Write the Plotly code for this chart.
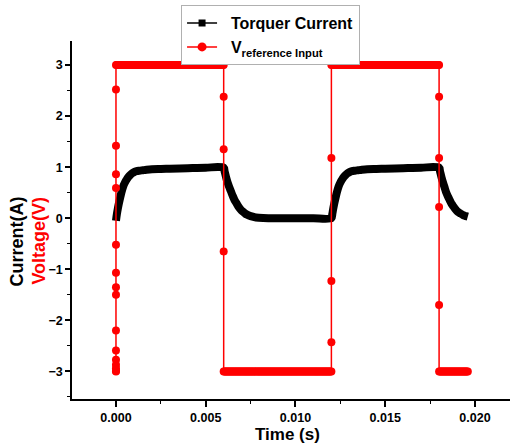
import numpy as np
import plotly.graph_objects as go

# ---- torquer current (A) ----
cur_t = [0.0, 0.00005, 0.0001, 0.00015, 0.0002, 0.0003, 0.0004, 0.0005, 0.0006, 0.0007,
         0.0008, 0.0009, 0.0010, 0.00115, 0.0013, 0.0015, 0.0017, 0.0020, 0.0025, 0.0030,
         0.0040, 0.0050, 0.0060,
         0.00605, 0.0061, 0.00615, 0.0062, 0.0063, 0.0064, 0.0065, 0.0066, 0.0067, 0.0068,
         0.0069, 0.0070, 0.0071, 0.0072, 0.0073, 0.0075, 0.0078, 0.0082, 0.0090, 0.0100,
         0.0110, 0.0120,
         0.01205, 0.0121, 0.01215, 0.0122, 0.0123, 0.0124, 0.0125, 0.0126, 0.0127,
         0.0128, 0.0129, 0.0130, 0.01315, 0.0133, 0.0135, 0.0137, 0.0140, 0.0145, 0.0150,
         0.0160, 0.0170, 0.0180,
         0.01805, 0.0181, 0.01815, 0.0182, 0.0183, 0.0184, 0.0185, 0.0186, 0.0187, 0.0188,
         0.0189, 0.0190, 0.0191, 0.0192, 0.0193, 0.0194, 0.0195, 0.0196]
cur_i = [-0.05, 0.08, 0.18, 0.27, 0.35, 0.50, 0.62, 0.70, 0.76, 0.81,
         0.85, 0.88, 0.90, 0.92, 0.93, 0.94, 0.95, 0.96, 0.965, 0.97,
         0.98, 0.99, 0.99,
         0.92, 0.85, 0.78, 0.72, 0.62, 0.53, 0.44, 0.36, 0.30, 0.24,
         0.19, 0.15, 0.12, 0.09, 0.07, 0.04, 0.015, 0.005, 0.0, 0.0,
         0.0, 0.0,
         0.08, 0.18, 0.27, 0.35, 0.50, 0.62, 0.70, 0.76, 0.81,
         0.85, 0.88, 0.90, 0.92, 0.93, 0.94, 0.95, 0.96, 0.965, 0.97,
         0.98, 0.99, 0.99,
         0.92, 0.85, 0.78, 0.72, 0.61, 0.50, 0.42, 0.35, 0.28, 0.23,
         0.18, 0.14, 0.11, 0.09, 0.07, 0.05, 0.04, 0.03]

# ---- reference input voltage (V) ----
switch_t = [0.0, 0.006, 0.012, 0.018]          # switching instants
level_v = [3.0, -3.0, 3.0, -3.0]               # level held after each switch
end_t = 0.0196                                 # last simulated instant
sample_dt = 0.00005                            # solver output step
# intermediate samples captured during each switching edge
edge_v = [
    [-3.0, -2.99, -2.94, -2.87, -2.77, -2.59, -2.2, -1.5, -1.35, -1.07, -0.52, 0.59, 0.86, 1.42, 2.52],
    [2.38, 1.35, -0.65],
    [-2.43, -1.23, 1.18],
    [2.38, 1.18, 0.22, -1.7],
]

# assemble the sampled voltage series from edges + held levels
v_t, v_v = [], []
stops = switch_t[1:] + [end_t]
for t0, t1, lv, edge in zip(switch_t, stops, level_v, edge_v):
    v_t += [t0] * len(edge)
    v_v += edge
    hold = np.arange(t0, t1 + sample_dt / 2, sample_dt)
    v_t += list(hold)
    v_v += [lv] * len(hold)

FONT = "Liberation Sans, Arial, sans-serif"
RED = "#ff0000"
PAD = "\u00a0\u00a0"

fig = go.Figure()

fig.add_trace(go.Scatter(
    x=cur_t, y=cur_i, mode="lines",
    line=dict(color="black", width=8, shape="spline", smoothing=0.8),
    showlegend=False, hoverinfo="skip"))

fig.add_trace(go.Scatter(
    x=v_t, y=v_v, mode="lines+markers",
    line=dict(color=RED, width=1.5),
    marker=dict(symbol="circle", size=8, color=RED),
    showlegend=False, hoverinfo="skip"))

# legend entries
fig.add_trace(go.Scatter(
    x=[None], y=[None], mode="lines+markers", name=PAD + "Torquer Current",
    line=dict(color="black", width=1.5),
    marker=dict(symbol="square", size=7, color="black")))
fig.add_trace(go.Scatter(
    x=[None], y=[None], mode="lines+markers",
    name=PAD + "V<sub>reference Input</sub>",
    line=dict(color=RED, width=1.5),
    marker=dict(symbol="circle", size=9, color=RED)))

tickfont = dict(family=FONT, size=12.5, color="black", weight="bold")

fig.update_xaxes(
    range=[-0.00245, 0.02195],
    tickvals=[0.0, 0.005, 0.010, 0.015, 0.020],
    ticktext=["0.000", "0.005", "0.010", "0.015", "0.020"],
    ticks="outside", ticklen=6, tickwidth=1.5, tickcolor="black",
    minor=dict(dtick=0.0025, tick0=0, ticks="outside", ticklen=3, tickwidth=1.2, tickcolor="black"),
    showline=True, linecolor="black", linewidth=1.5,
    showgrid=False, zeroline=False, tickfont=tickfont)

fig.update_yaxes(
    range=[-3.54, 3.47],
    tickvals=[-3, -2, -1, 0, 1, 2, 3],
    ticks="outside", ticklen=5, tickwidth=1.5, tickcolor="black",
    minor=dict(dtick=0.5, tick0=0, ticks="outside", ticklen=3, tickwidth=1.2, tickcolor="black"),
    showline=True, linecolor="black", linewidth=1.5,
    showgrid=False, zeroline=False, tickfont=tickfont)

fig.update_layout(
    width=514, height=443,
    margin=dict(l=72, r=4, t=41, b=44),
    paper_bgcolor="white", plot_bgcolor="white",
    font=dict(family=FONT, color="black"),
    legend=dict(
        x=0.2490, y=1.100, xanchor="left", yanchor="top",
        bgcolor="white", bordercolor="#b0b0b0", borderwidth=1,
        font=dict(family=FONT, size=16, color="black", weight="bold"),
        tracegroupgap=0),
    annotations=[
        dict(text="Time (s)", xref="paper", yref="paper", x=0.493, y=-0.098,
             xanchor="center", yanchor="middle", showarrow=False,
             font=dict(family=FONT, size=17, color="black", weight="bold")),
        dict(text="Current(A)", xref="paper", yref="paper", x=-0.1244, y=0.4385,
             xanchor="center", yanchor="middle", textangle=-90, showarrow=False,
             font=dict(family=FONT, size=18, color="black", weight="bold")),
        dict(text="Voltage(V)", xref="paper", yref="paper", x=-0.0742, y=0.441,
             xanchor="center", yanchor="middle", textangle=-90, showarrow=False,
             font=dict(family=FONT, size=18, color=RED, weight="bold")),
    ],
)

fig.write_html("out.html")
